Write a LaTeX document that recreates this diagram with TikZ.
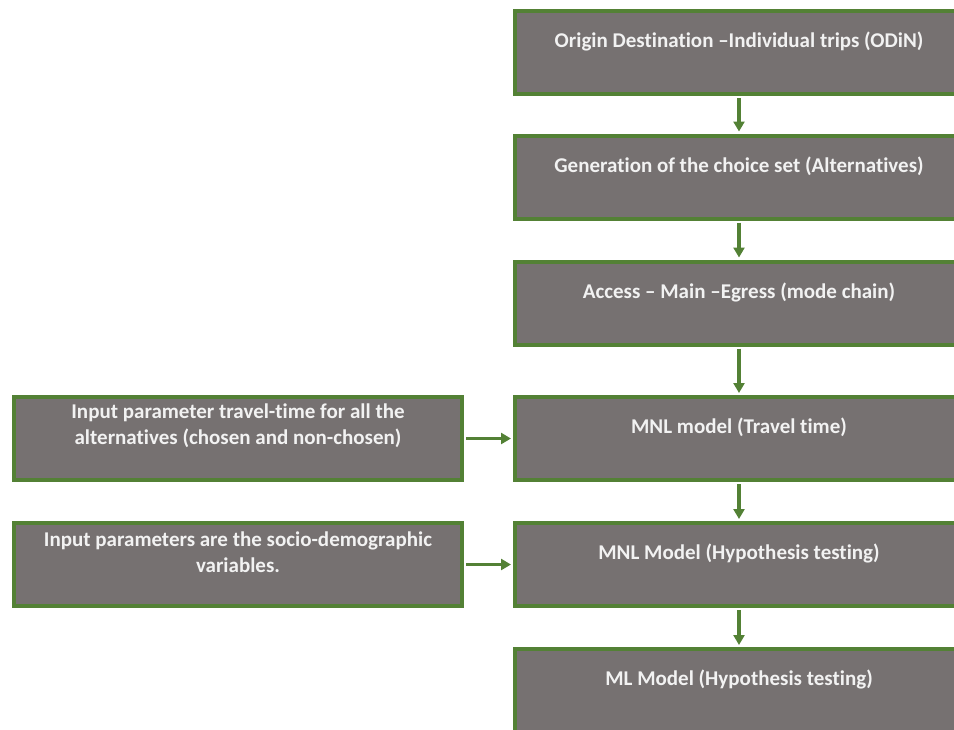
\documentclass[tikz,border=0pt]{standalone}
\usepackage{fontspec}
\setmainfont{Carlito}[Ligatures=NoCommon]
\usetikzlibrary{arrows.meta,calc}
\definecolor{boxgray}{HTML}{767171}
\definecolor{boxgreen}{HTML}{538135}
\definecolor{txt}{HTML}{F2F2F2}
\tikzset{
  box/.style={draw=boxgreen, line width=4pt, fill=boxgray, rectangle,
    minimum width=448pt, minimum height=83pt, inner sep=0pt},
  boxtext/.style={text=txt, font=\bfseries\fontsize{21}{26}\selectfont, align=center, inner sep=0pt},
  arr/.style={draw=boxgreen, line width=3.5pt, -{Triangle[length=10pt,width=11pt]}}
}
\begin{document}
\begin{tikzpicture}[x=1pt,y=-1pt]
\useasboundingbox (0,0) rectangle (954,729);
\clip (0,0) rectangle (954,729);
% right column boxes
\node[box] (b1) at (739,52.5) {};
\node[box] (b2) at (739,177) {};
\node[box] (b3) at (739,303) {};
\node[box] (b4) at (739,438.5) {};
\node[box] (b5) at (739,564.5) {};
\node[box] (b6) at (739,690.5) {};
% left boxes
\node[box] (l1) at (238,438.5) {};
\node[box] (l2) at (238,564.5) {};
% texts
\node[boxtext] (t1) at ($(b1.north)+(0,32.5)$) {Origin Destination –Individual trips (ODiN)};
\node[boxtext] (t2) at ($(b2.north)+(0,32.5)$) {Generation of the choice set (Alternatives)};
\node[boxtext] (t3) at ($(b3.north)+(0,32.5)$) {Access – Main –Egress (mode chain)};
\node[boxtext] (t4) at ($(b4.north)+(0,32.5)$) {MNL model (Travel time)};
\node[boxtext] (t5) at ($(b5.north)+(0,32.5)$) {MNL Model (Hypothesis testing)};
\node[boxtext] (t6) at ($(b6.north)+(0,32.5)$) {ML Model (Hypothesis testing)};
\node[boxtext] (t7) at ($(l1.north)+(0,31)$) {Input parameter travel-time for all the\\alternatives (chosen and non-chosen)};
\node[boxtext] (t8) at ($(l2.north)+(0,31)$) {Input parameters are the socio-demographic\\variables.};
% arrows
\draw[arr] ($(b1.south)+(0,2)$) -- ($(b2.north)+(0,-2)$);
\draw[arr] ($(b2.south)+(0,2)$) -- ($(b3.north)+(0,-2)$);
\draw[arr] ($(b3.south)+(0,2)$) -- ($(b4.north)+(0,-2)$);
\draw[arr] ($(b4.south)+(0,2)$) -- ($(b5.north)+(0,-2)$);
\draw[arr] ($(b5.south)+(0,2)$) -- ($(b6.north)+(0,-2)$);
\draw[arr] ($(l1.east)+(2,0)$) -- ($(b4.west)+(-2,0)$);
\draw[arr] ($(l2.east)+(2,0)$) -- ($(b5.west)+(-2,0)$);
\end{tikzpicture}
\end{document}
